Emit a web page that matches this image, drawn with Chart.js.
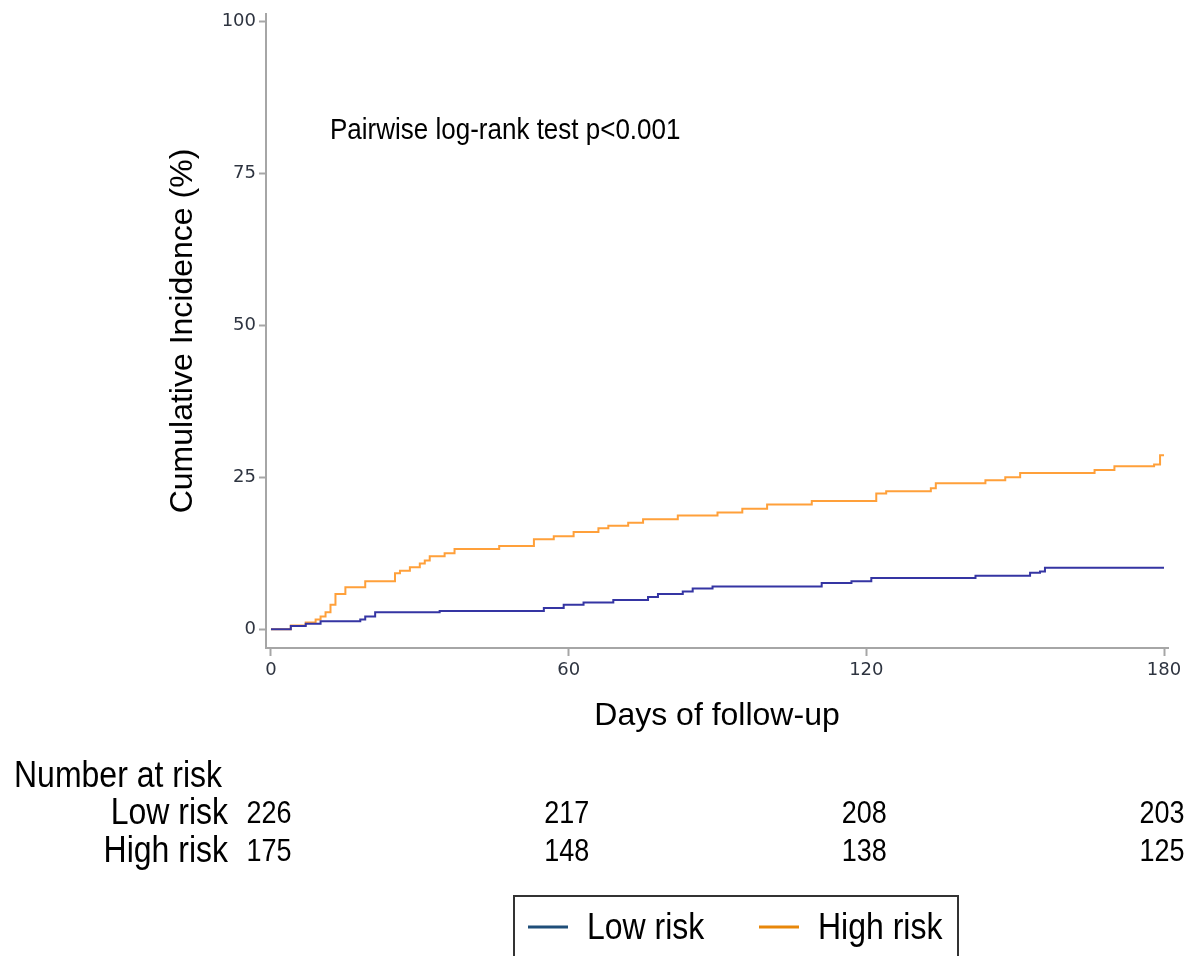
<!DOCTYPE html>
<html>
<head>
<meta charset="utf-8">
<script src="https://cdn.jsdelivr.net/npm/chart.js@4/dist/chart.umd.min.js"></script>
<style>
  body { margin: 0; background: #fff; }
  canvas { display: block; }
</style>
</head>
<body>
<canvas id="km" width="1192" height="956"></canvas>
<script>
// cumulative incidence (%) at each event day
var lowDays = [0, 4, 7, 10, 18, 19, 21, 34, 55, 59, 63, 69, 76, 78, 83, 85, 89, 111, 117, 121, 142, 153, 155, 156, 180];
var lowPct  = [0, 0.5, 0.9, 1.3, 1.6, 2.1, 2.8, 3.0, 3.5, 4.0, 4.4, 4.8, 5.3, 5.8, 6.2, 6.7, 7.0, 7.6, 7.9, 8.4, 8.8, 9.3, 9.5, 10.1, 10.1];

var highDays = [0, 4, 7, 9, 10, 11, 12, 13, 15, 19, 25, 26, 28, 30, 31, 32, 35, 37, 46, 53, 57, 61, 66, 68, 72, 75, 82, 90, 95, 100, 109, 122, 124, 133, 134, 144, 148, 151, 166, 170, 178, 179.2, 180];
var highPct  = [0, 0.6, 1.1, 1.6, 2.1, 2.8, 4.0, 5.8, 6.9, 7.9, 9.2, 9.6, 10.2, 10.8, 11.3, 12.0, 12.5, 13.2, 13.7, 14.8, 15.3, 16.0, 16.6, 17.0, 17.5, 18.1, 18.7, 19.2, 19.8, 20.5, 21.1, 22.3, 22.7, 23.2, 24.0, 24.5, 25.0, 25.7, 26.2, 26.8, 27.1, 28.6, 28.6];

var groupNames = ["Low risk", "High risk"];
var riskDays = [0, 60, 120, 180];
var lowAtRisk = [226, 217, 208, 203];
var highAtRisk = [175, 148, 138, 125];

var xTicks = [0, 60, 120, 180];
var yTicks = [0, 25, 50, 75, 100];

var lineColors = ["#3535a3", "#ffa03a"];
var legendColors = ["#1f4e79", "#e8870a"];
var axisGray = "#a6a6a6";
var sans = "'Liberation Sans', Arial, sans-serif";

function toPoints(xs, ys) {
  return xs.map(function (x, i) { return { x: x, y: ys[i] }; });
}

// the reference text is a bit taller than wide, so stretch it slightly
function tallText(ctx, str, x, y) {
  ctx.save();
  ctx.translate(x, y);
  ctx.scale(1, 1.15);
  ctx.fillText(str, 0, 0);
  ctx.restore();
}

// text annotation, number-at-risk table and boxed legend
var extras = {
  id: "extras",
  afterDraw: function (chart) {
    var ctx = chart.ctx;
    var xs = chart.scales.x, ys = chart.scales.y;
    ctx.save();
    ctx.fillStyle = "#000";
    ctx.textBaseline = "middle";

    ctx.font = "26px " + sans;
    ctx.textAlign = "left";
    tallText(ctx, "Pairwise log-rank test p<0.001", xs.getPixelForValue(11.9), ys.getPixelForValue(82));

    ctx.font = "32px " + sans;
    tallText(ctx, "Number at risk", 14, 777);
    ctx.textAlign = "right";
    tallText(ctx, groupNames[0], 228, 814);
    tallText(ctx, groupNames[1], 228, 852);

    ctx.font = "27px " + sans;
    ctx.textAlign = "center";
    riskDays.forEach(function (d, i) {
      var px = xs.getPixelForValue(d);
      tallText(ctx, String(lowAtRisk[i]), px - 2, 814);
      tallText(ctx, String(highAtRisk[i]), px - 2, 852);
    });

    // legend
    ctx.strokeStyle = "#333";
    ctx.lineWidth = 2;
    ctx.strokeRect(514, 896, 444, 90);
    ctx.lineWidth = 3;
    var items = [[528, 587], [759, 818]];
    items.forEach(function (it, i) {
      ctx.strokeStyle = legendColors[i];
      ctx.beginPath();
      ctx.moveTo(it[0], 927);
      ctx.lineTo(it[0] + 40, 927);
      ctx.stroke();
      ctx.font = "32px " + sans;
      ctx.textAlign = "left";
      ctx.fillStyle = "#000";
      tallText(ctx, groupNames[i], it[1], 929);
    });
    ctx.restore();
  }
};

new Chart(document.getElementById("km"), {
  type: "line",
  data: {
    datasets: [
      {
        label: groupNames[0],
        data: toPoints(lowDays, lowPct),
        borderColor: lineColors[0],
        borderWidth: 2,
        stepped: true,
        pointRadius: 0,
        fill: false
      },
      {
        label: groupNames[1],
        data: toPoints(highDays, highPct),
        borderColor: lineColors[1],
        borderWidth: 2,
        stepped: true,
        pointRadius: 0,
        fill: false
      }
    ]
  },
  options: {
    responsive: false,
    animation: false,
    layout: { padding: { left: 160, top: 14, right: 24, bottom: 218 } },
    plugins: {
      legend: { display: false },
      tooltip: { enabled: false }
    },
    scales: {
      x: {
        type: "linear",
        min: -1,
        max: 180.8,
        afterBuildTicks: function (s) { s.ticks = xTicks.map(function (v) { return { value: v }; }); },
        afterFit: function (s) { s.height = 90; },
        border: { color: axisGray, width: 2 },
        grid: { drawOnChartArea: false, tickLength: 8, color: axisGray, tickWidth: 2 },
        ticks: { font: { family: "'DejaVu Sans'", size: 18 }, color: "#2e3440", padding: 4, maxRotation: 0 },
        title: {
          display: true,
          text: "Days of follow-up",
          color: "#000",
          font: { family: sans, size: 32 },
          padding: { top: 0, bottom: 3 }
        }
      },
      y: {
        min: -3.1,
        max: 101.2,
        afterBuildTicks: function (s) { s.ticks = yTicks.map(function (v) { return { value: v }; }); },
        afterFit: function (s) { s.width = 106; },
        border: { color: axisGray, width: 2 },
        grid: { drawOnChartArea: false, tickLength: 7, color: axisGray, tickWidth: 2 },
        ticks: { font: { family: "'DejaVu Sans'", size: 18 }, color: "#2e3440", padding: 3 },
        title: {
          display: true,
          text: "Cumulative Incidence (%)",
          color: "#000",
          font: { family: sans, size: 32 },
          padding: { top: 4, bottom: 0 }
        }
      }
    }
  },
  plugins: [extras]
});
</script>
</body>
</html>
